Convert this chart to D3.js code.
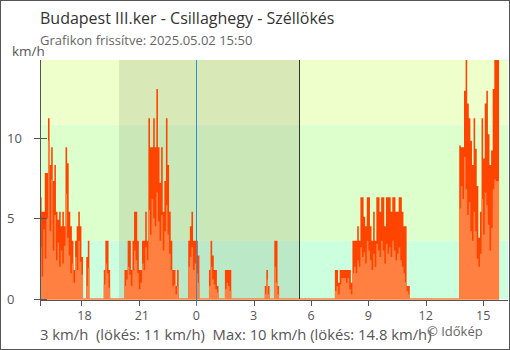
<!DOCTYPE html>
<html><head><meta charset="utf-8">
<script src="https://cdn.jsdelivr.net/npm/d3@7"></script>
<style>
html,body{margin:0;padding:0;background:#fff;}
svg{display:block;font-family:"Open Sans",sans-serif;}
</style></head>
<body><svg id="c" width="510" height="350"></svg>
<script>
// ---- data ----
const title = "Budapest III.ker - Csillaghegy - Széllökés";
const subtitle = "Grafikon frissítve: 2025.05.02 15:50";
const unitLabel = "km/h";
const footer = "3 km/h  (lökés: 11 km/h)  Max: 10 km/h (lökés: 14.8 km/h)";
const credit = "© Időkép";
const seriesStart = [2025, 4, 1, 15, 50];   // first sample (local time)
const stepMinutes = 5;
const axisEnd = [2025, 4, 2, 16, 18];
const sunset = [2025, 4, 1, 19, 58];
const sunrise = [2025, 4, 2, 5, 23];
const midnight = [2025, 4, 2, 0, 0];
const yMax = 14.8;
const yTicks = [0, 5, 10];
const bandLimits = [3.6, 10.8];   // 1 m/s and 3 m/s steps in km/h
const tickHours = [18, 21, 0, 3, 6, 9, 12, 15];

// gust (lökés) km/h, one value per 5 minutes, 12 per row
const gust = [
 6.3,5.4,5.4,7.8,7.8,11.2,8.3,9.4,7.3,8.3,5.4,4.9,
 5.4,4.5,5.4,4.5,9.4,8.4,5.4,4.5,3.6,1.8,3.6,4.5,
 5.4,4.5,2.6,0,0,2.6,3.6,0,0,0,0,0,
 0,0,0,0,1.8,3.6,3.6,1.8,0,0,0,0,
 0,0,0,0,0,1.8,1.8,3.6,3.6,1.8,3.6,5.4,
 5.4,3.6,1.8,1.8,3.6,3.6,5.4,3.6,11.2,9.4,9.4,11.2,
 9.4,13.0,9.4,7.2,9.4,5.4,7.3,11.2,8.3,5.4,3.6,1.8,
 1.8,0.8,1.8,0,0,0,0,0,0,3.6,4.5,5.4,
 3.6,3.6,3.6,2.7,0,0,0,0,0,0,1.8,3.6,
 2.7,1.8,1.8,0.8,0,0,0,0,1.8,1.8,1.8,1.8,
 0,0,0,0,0,0,0,0,0,0,0,0,
 0,0,0,0,0,0,0,0,0,0.8,1.8,0.8,
 0,0,0,3.6,3.6,0.8,0,0,0,0,0,0,
 0,0,0,0,0,0,0,0,0,0,0,0,
 0,0,0,0,0,0,0,0,0,0,0,0,
 0,0,0,0,0,1.8,1.8,1.0,1.8,1.8,1.8,1.8,
 1.8,1.8,1.8,1.0,3.6,3.6,3.6,4.5,3.6,6.3,6.3,5.1,
 4.5,6.3,6.3,4.5,3.6,5.4,3.6,6.3,6.3,5.4,6.3,6.3,
 4.5,6.3,6.3,6.3,5.4,6.3,6.3,5.4,5.4,6.3,6.3,5.4,
 4.5,4.5,0.8,0.8,0,0,0,0,0,0,0,0,
 0,0,0,0,0,0,0,0,0,0,0,0,
 0,0,0,0,0,0,0,0,0,0,0,9.5,
 9.4,9.4,12.9,14.8,12.1,11.2,9.8,8.3,11.2,9.3,7.0,3.8,
 5.4,11.2,8.7,12.1,12.9,10.2,8.3,9.2,13.0,14.8,14.8,14.8
];
// average wind km/h, same timing
const wind = [
 3.2,1.4,4.3,2.5,5.0,9.8,4.2,7.4,3.0,5.2,2.4,3.5,
 2.0,3.0,2.2,3.3,6.5,3.8,2.7,1.6,2.2,1.0,2.6,1.8,
 3.6,2.3,1.5,0,0,0.8,1.9,0,0,0,0,0,
 0,0,0,0,0.9,2.2,1.6,0.7,0,0,0,0,
 0,0,0,0,0,0.8,1.2,2.0,1.5,0.8,1.8,3.0,
 2.4,1.6,0.6,1.0,2.2,1.8,3.2,2.4,5.5,4.0,6.2,5.0,
 4.5,6.6,4.8,3.6,5.2,3.0,4.2,5.8,4.0,2.8,1.8,0.8,
 0.9,0.3,0.8,0,0,0,0,0,0,2.0,2.6,3.2,
 1.8,2.2,1.6,1.0,0,0,0,0,0,0,0.8,2.0,
 1.2,0.9,0.6,0.4,0,0,0,0,0.6,1.0,0.8,0.5,
 0,0,0,0,0,0,0,0,0,0,0,0,
 0,0,0,0,0,0,0,0,0,0.3,1.2,0.3,
 0,0,0,2.0,1.0,0.3,0,0,0,0,0,0,
 0,0,0,0,0,0,0,0,0,0,0,0,
 0,0,0,0,0,0,0,0,0,0,0,0,
 0,0,0,0,0,0.5,0.8,0.3,0.9,1.3,1.3,1.3,
 1.0,1.3,0.6,0.3,1.6,2.0,1.6,2.4,2.0,3.2,2.6,2.9,
 2.2,3.6,3.0,2.4,1.8,2.8,2.0,3.4,3.0,2.6,3.6,3.0,
 2.2,3.4,2.8,3.2,2.6,3.6,3.0,2.4,2.8,3.2,2.4,2.0,
 1.6,1.0,0.5,0.3,0,0,0,0,0,0,0,0,
 0,0,0,0,0,0,0,0,0,0,0,0,
 0,0,0,0,0,0,0,0,0,0,0,5.6,
 7.0,6.2,8.8,6.8,5.2,6.0,4.2,3.6,5.4,4.2,2.5,2.0,
 2.8,6.2,4.0,6.6,5.8,4.6,3.0,4.4,6.8,7.4,7.3,7.3
];

// ---- chart ----
const D = a => new Date(a[0], a[1], a[2], a[3], a[4]);
const t0 = D(seriesStart);
const timeAt = i => new Date(t0.getTime() + i * stepMinutes * 60000);
const svg = d3.select("#c");
const L = 40, R = 508, T = 60, B = 299;
const x = d3.scaleTime().domain([t0, D(axisEnd)]).range([L, R]);
const y = d3.scaleLinear().domain([0, yMax]).range([B, T]);

// frame
svg.append("rect").attr("x", 0.5).attr("y", 0.5).attr("width", 509).attr("height", 349)
  .attr("fill", "#fff").attr("stroke", "#555");

// bands
const bands = [[0, bandLimits[0], "#ccffdd"], [bandLimits[0], bandLimits[1], "#ddffcc"], [bandLimits[1], yMax, "#eeffcc"]];
svg.append("g").selectAll("rect").data(bands).join("rect")
  .attr("x", L).attr("width", R - L)
  .attr("y", d => y(d[1])).attr("height", d => y(d[0]) - y(d[1]))
  .attr("fill", d => d[2]);
// night
svg.append("rect").attr("x", x(D(sunset))).attr("width", x(D(sunrise)) - x(D(sunset)))
  .attr("y", T).attr("height", B - T).attr("fill", "rgba(40,30,0,0.1)");

// series as step areas
function pts(arr) {
  const p = arr.map((v, i) => [timeAt(i), v]);
  p.push([timeAt(arr.length), arr[arr.length - 1]]);
  return p;
}
const area = d3.area().curve(d3.curveStepAfter)
  .x(d => x(d[0])).y0(y(0)).y1(d => y(d[1]));
svg.append("path").datum(pts(gust)).attr("d", area).attr("fill", "#ff4400");
svg.append("path").datum(pts(wind)).attr("d", area).attr("fill", "#ff8040");
svg.append("line").attr("x1", L).attr("x2", x(timeAt(wind.length)))
  .attr("y1", B).attr("y2", B).attr("stroke", "#ff8040").attr("stroke-width", 1.5);

// midnight & sunrise lines
svg.append("line").attr("x1", Math.round(x(D(midnight))) + 0.5).attr("x2", Math.round(x(D(midnight))) + 0.5)
  .attr("y1", T).attr("y2", B + 7).attr("stroke", "#2b8fd6");
svg.append("line").attr("x1", Math.round(x(D(sunrise))) + 0.5).attr("x2", Math.round(x(D(sunrise))) + 0.5)
  .attr("y1", T).attr("y2", B).attr("stroke", "#333");

// axes
svg.append("line").attr("x1", L).attr("x2", R).attr("y1", B + 1.5).attr("y2", B + 1.5).attr("stroke", "#555");
svg.append("line").attr("x1", L + 0.5).attr("x2", L + 0.5).attr("y1", T).attr("y2", B + 7).attr("stroke", "#555");
const ticks = x.ticks(d3.timeHour.every(3)).filter(d => tickHours.includes(d.getHours()));
const xg = svg.append("g");
xg.selectAll("line").data(ticks.filter(d => d.getHours() !== 0)).join("line")
  .attr("x1", d => Math.round(x(d)) + 0.5).attr("x2", d => Math.round(x(d)) + 0.5)
  .attr("y1", B + 1).attr("y2", B + 7).attr("stroke", "#555");
xg.selectAll("text").data(ticks).join("text")
  .attr("x", d => x(d) + (d.getHours() > 16 ? 3 : 0)).attr("y", B + 21).attr("text-anchor", "middle")
  .attr("font-size", 12.5).attr("fill", "#555").text(d => d3.timeFormat("%-H")(d));
const yg = svg.append("g");
yg.selectAll("line").data(yTicks).join("line")
  .attr("x1", 34).attr("x2", 47).attr("y1", d => Math.round(y(d)) + 0.5).attr("y2", d => Math.round(y(d)) + 0.5)
  .attr("stroke", "#555");
yg.selectAll("text").data(yTicks).join("text")
  .attr("x", 7).attr("y", d => y(d) + 5).attr("font-size", 13).attr("fill", "#555").text(d => d);

// texts
svg.append("text").attr("x", 40).attr("y", 24).attr("font-size", 16).attr("fill", "#333").text(title);
svg.append("text").attr("x", 40).attr("y", 45).attr("font-size", 13).attr("fill", "#666").text(subtitle);
svg.append("text").attr("x", 12).attr("y", 56).attr("font-size", 13.5).attr("fill", "#555").text(unitLabel);
svg.append("text").attr("x", 40).attr("y", 340).attr("font-size", 14.8).attr("fill", "#555").style("white-space","pre").text(footer);
svg.append("text").attr("x", 427).attr("y", 336).attr("font-size", 13).attr("fill", "#666").text(credit);
</script></body></html>
